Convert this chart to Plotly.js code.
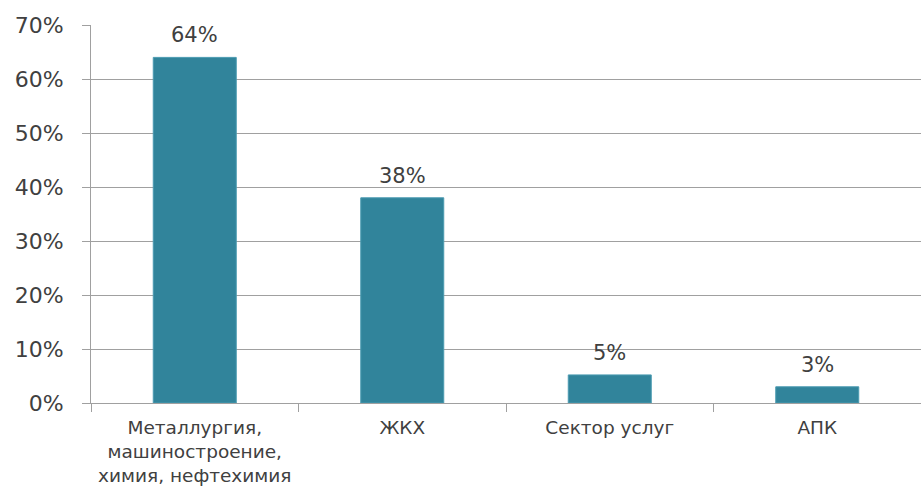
<!DOCTYPE html>
<html>
<head>
<meta charset="utf-8">
<script src="https://cdn.plot.ly/plotly-3.0.1.min.js"></script>
<style>html,body{margin:0;padding:0;background:#fff;}#chart{width:921px;height:489px;}</style>
</head>
<body>
<div id="chart"></div>
<script>
const categories = ['Металлургия,<br>машиностроение,<br>химия, нефтехимия', 'ЖКХ', 'Сектор услуг', 'АПК'];
const values = [0.64, 0.38, 0.052, 0.03];
const labels = ['64%', '38%', '5%', '3%'];
const yTickVals = [0, 0.1, 0.2, 0.3, 0.4, 0.5, 0.6, 0.7];

const font = 'DejaVu Sans, Verdana, sans-serif';

const trace = {
  type: 'bar',
  x: categories,
  y: values,
  marker: {color: '#31849b', line: {color: '#4b9bb1', width: 1}},
  hoverinfo: 'none'
};

const annotations = categories.map((c, i) => ({
  x: c, y: values[i], xref: 'x', yref: 'y',
  text: labels[i], showarrow: false,
  yanchor: 'bottom', yshift: 8,
  font: {family: font, size: 21, color: '#404040'}
}));

const layout = {
  width: 921, height: 489,
  margin: {l: 91, r: 0, t: 25, b: 86},
  paper_bgcolor: '#fff', plot_bgcolor: '#fff',
  bargap: 0.6,
  showlegend: false,
  xaxis: {
    type: 'category',
    tickson: 'boundaries',
    ticks: 'outside', ticklen: 8, tickcolor: '#a0a0a0', tickwidth: 1,
    showline: true, linecolor: '#a0a0a0', linewidth: 1,
    showgrid: false,
    ticklabelstandoff: 8,
    tickfont: {family: font, size: 18.5, color: '#404040'},
    automargin: false
  },
  yaxis: {
    range: [0, 0.7],
    tickvals: yTickVals,
    tickformat: '.0%',
    ticks: 'outside', ticklen: 8, tickcolor: '#a0a0a0', tickwidth: 1,
    showline: true, linecolor: '#a0a0a0', linewidth: 1,
    showgrid: true, gridcolor: '#a0a0a0', gridwidth: 1,
    zeroline: false,
    ticklabelstandoff: 14,
    tickfont: {family: font, size: 22, color: '#404040'},
    automargin: false
  },
  annotations: annotations
};

Plotly.newPlot('chart', [trace], layout, {displayModeBar: false, staticPlot: true});
</script>
</body>
</html>
